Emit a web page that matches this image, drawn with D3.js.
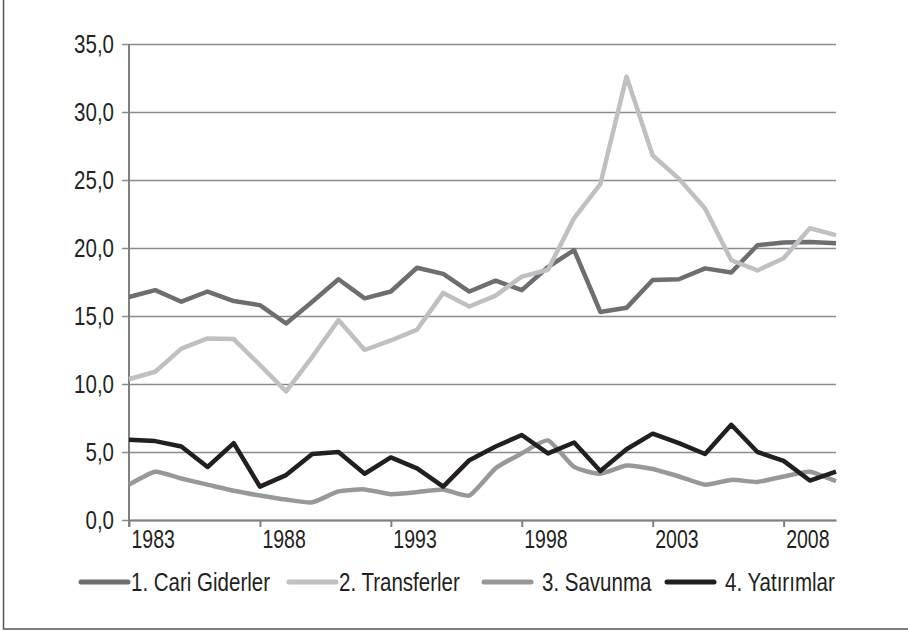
<!DOCTYPE html>
<html lang="tr">
<head>
	<meta charset="utf-8">
<style>

  body {
    margin: 0;
    background: #fff;
  }

  text {
    font-family: "Liberation Sans", Arial, sans-serif;
    fill: #231f20;
  }

</style>
	<title>Harcamalar</title>
	<script type="text/javascript" src="https://cdn.jsdelivr.net/npm/d3@7"></script>
</head>
<body>
	<div id="chart"></div>
	<script type="text/javascript">

		// data
		var years = [1983,1984,1985,1986,1987,1988,1989,1990,1991,1992,1993,1994,1995,1996,
		             1997,1998,1999,2000,2001,2002,2003,2004,2005,2006,2007,2008,2009,2010];
		var tickYears = [1983, 1988, 1993, 1998, 2003, 2008];
		var yTicks = [0, 5, 10, 15, 20, 25, 30, 35];

		var cariGiderler = [16.4,16.9,16.05,16.8,16.1,15.8,14.45,16.05,17.7,16.3,16.8,18.55,18.1,16.8,
		                    17.6,16.9,18.6,19.85,15.3,15.6,17.65,17.7,18.5,18.2,20.2,20.4,20.45,20.35];
		var transferler = [10.35,10.9,12.6,13.35,13.3,11.4,9.45,12.0,14.7,12.5,13.2,14.0,16.7,15.7,
		                   16.5,17.9,18.4,22.2,24.7,32.6,26.8,25.1,22.9,19.1,18.35,19.25,21.45,20.95];
		var savunma = [2.6,3.55,3.05,2.6,2.15,1.8,1.5,1.3,2.1,2.25,1.9,2.05,2.25,1.8,
		               3.8,4.9,5.85,3.9,3.4,4.0,3.75,3.2,2.6,2.95,2.8,3.2,3.55,2.85];
		var yatirimlar = [5.9,5.8,5.4,3.9,5.65,2.45,3.3,4.85,5.0,3.4,4.6,3.8,2.45,4.4,
		                  5.4,6.25,4.9,5.7,3.6,5.2,6.35,5.65,4.85,7.0,5.0,4.35,2.9,3.55];

		var names = ["1. Cari Giderler", "2. Transferler", "3. Savunma", "4. Yatırımlar"];
		var colors = ["#6d6e71", "#bfc0c2", "#97989b", "#231f20"];

		var series = [
			{ name: names[0], values: cariGiderler, color: colors[0], smooth: false },
			{ name: names[1], values: transferler, color: colors[1], smooth: false },
			{ name: names[2], values: savunma, color: colors[2], smooth: true },
			{ name: names[3], values: yatirimlar, color: colors[3], smooth: false }
		];

		var width = 908,
			height = 631;

		// the original uses a condensed face; squeeze Liberation Sans to match
		function narrow(sel, k) {
			sel.each(function() {
				var w = this.getComputedTextLength();
				d3.select(this)
					.attr("textLength", w * k)
					.attr("lengthAdjust", "spacingAndGlyphs");
			});
		}

		var svg = d3.select("#chart")
					.append("svg")
					.attr("width", width)
					.attr("height", height);

		// frame of the figure, only left and bottom edges fall inside the window
		svg.append("rect")
			.attr("x", 3.5)
			.attr("y", -20)
			.attr("width", 940)
			.attr("height", 649)
			.attr("fill", "none")
			.attr("stroke", "#555")
			.attr("stroke-width", 1.5);

		var x = d3.scalePoint().domain(years).range([129, 836]);
		var y = d3.scaleLinear().domain([0, 35]).range([520, 44]);

		var loc = d3.formatLocale({ decimal: ",", thousands: ".", grouping: [3], currency: ["", ""] });
		var fmt = loc.format(".1f");

		// horizontal grid + y ticks
		var yAxis = d3.axisLeft(y)
			.tickValues(yTicks)
			.tickSize(-(836 - 122))
			.tickPadding(8)
			.tickFormat(fmt);

		var gy = svg.append("g")
			.attr("transform", "translate(122,0)")
			.call(yAxis);
		gy.attr("font-family", null);
		gy.select(".domain").remove();
		gy.selectAll(".tick line")
			.attr("stroke", "#8c8c8c")
			.attr("stroke-width", 1.6);
		gy.selectAll(".tick text")
			.attr("x", -8)
			.style("font-size", "25px")
			.style("fill", "#231f20")
			.call(narrow, 0.82);

		// vertical axis line
		svg.append("line")
			.attr("x1", 129).attr("x2", 129)
			.attr("y1", 44).attr("y2", 527)
			.attr("stroke", "#808080")
			.attr("stroke-width", 2);

		// x axis
		var xAxis = d3.axisBottom(x)
			.tickValues(tickYears)
			.tickSize(7)
			.tickSizeOuter(0)
			.tickFormat(d3.format("d"));

		var gx = svg.append("g")
			.attr("transform", "translate(0,520)")
			.call(xAxis);
		gx.attr("font-family", null);
		gx.select(".domain")
			.attr("stroke", "#808080")
			.attr("stroke-width", 2);
		gx.selectAll(".tick line")
			.attr("stroke", "#808080")
			.attr("stroke-width", 2);
		gx.selectAll(".tick text")
			.attr("text-anchor", "start")
			.attr("x", 2)
			.attr("y", 10)
			.attr("dy", "0.71em")
			.style("font-size", "25px")
			.style("fill", "#231f20")
			.call(narrow, 0.78);

		// series lines
		series.forEach(function(s) {
			var line = d3.line()
				.x(function(d, i) { return x(years[i]); })
				.y(function(d) { return y(d); })
				.curve(s.smooth ? d3.curveCardinal.tension(0.5) : d3.curveLinear);

			svg.append("path")
				.datum(s.values)
				.attr("d", line)
				.attr("fill", "none")
				.attr("stroke", s.color)
				.attr("stroke-width", 4.5)
				.attr("stroke-linejoin", "round");
		});

		// legend
		var legendX = [79, 287, 482, 665];
		var legend = svg.append("g")
			.selectAll("g")
			.data(series)
			.enter().append("g")
			.attr("transform", function(d, i) { return "translate(" + legendX[i] + ",582)"; });

		legend.append("line")
			.attr("x1", 2).attr("x2", 49)
			.attr("stroke", function(d) { return d.color; })
			.attr("stroke-width", 5)
			.attr("stroke-linecap", "round");

		legend.append("text")
			.attr("x", function(d, i) { return i < 2 ? 52 : 60; })
			.attr("y", 8.5)
			.style("font-size", "25px")
			.text(function(d) { return d.name; })
			.call(narrow, 0.82);

	</script>
</body>
</html>
